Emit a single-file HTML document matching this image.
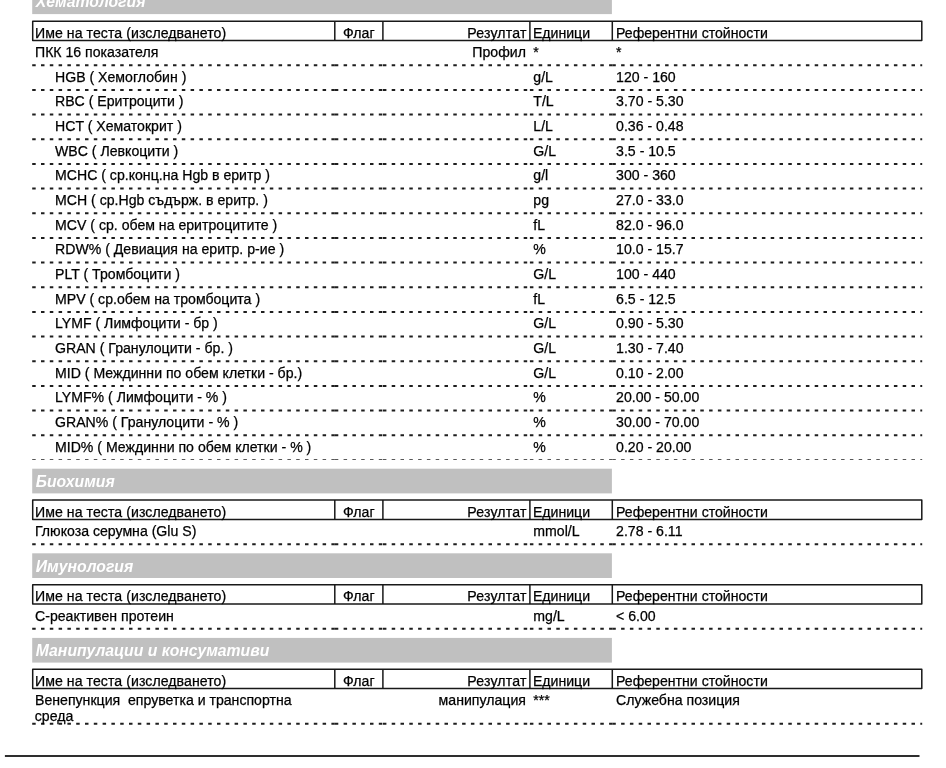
<!DOCTYPE html>
<html lang="bg"><head><meta charset="utf-8"><title>Лабораторни резултати</title>
<style>
html,body{margin:0;padding:0;background:#fff;}
body{width:946px;height:768px;position:relative;overflow:hidden;font-family:"Liberation Sans",sans-serif;color:#000;}
.t{position:absolute;white-space:nowrap;font-size:14.12px;line-height:20.0px;height:20.0px;color:#000;-webkit-text-stroke:0.25px #000;}
.h{position:absolute;left:35.8px;white-space:nowrap;font-size:15.75px;line-height:20.0px;height:20.0px;font-weight:bold;font-style:italic;color:#fff;}
svg{position:absolute;left:0;top:0;}
#pg{position:absolute;left:0;top:0;width:946px;height:768px;will-change:transform;}
</style></head><body><div id="pg">
<svg width="946" height="768" viewBox="0 0 946 768">
<rect x="32.20" y="-10.60" width="579.70" height="24.7" fill="#c0c0c0"/>
<rect x="32.20" y="468.70" width="579.70" height="24.7" fill="#c0c0c0"/>
<rect x="32.20" y="553.30" width="579.70" height="24.7" fill="#c0c0c0"/>
<rect x="32.20" y="637.90" width="579.70" height="24.7" fill="#c0c0c0"/>
<rect x="32.70" y="21.20" width="889.10" height="19.30" fill="none" stroke="#181818" stroke-width="1.5" stroke-linejoin="round"/>
<line x1="334.80" y1="21.20" x2="334.80" y2="40.50" stroke="#181818" stroke-width="1.5"/>
<line x1="382.90" y1="21.20" x2="382.90" y2="40.50" stroke="#181818" stroke-width="1.5"/>
<line x1="529.90" y1="21.20" x2="529.90" y2="40.50" stroke="#181818" stroke-width="1.5"/>
<line x1="612.30" y1="21.20" x2="612.30" y2="40.50" stroke="#181818" stroke-width="1.5"/>
<line x1="32.20" y1="65.30" x2="334.80" y2="65.30" stroke="#1e1e1e" stroke-width="2.0" stroke-dasharray="3.5 5.3"/>
<line x1="334.80" y1="65.30" x2="382.90" y2="65.30" stroke="#1e1e1e" stroke-width="2.0" stroke-dasharray="3.5 5.3"/>
<line x1="382.90" y1="65.30" x2="529.90" y2="65.30" stroke="#1e1e1e" stroke-width="2.0" stroke-dasharray="3.5 5.3"/>
<line x1="529.90" y1="65.30" x2="612.30" y2="65.30" stroke="#1e1e1e" stroke-width="2.0" stroke-dasharray="3.5 5.3"/>
<line x1="612.30" y1="65.30" x2="922.20" y2="65.30" stroke="#1e1e1e" stroke-width="2.0" stroke-dasharray="3.5 5.3"/>
<line x1="32.20" y1="89.96" x2="334.80" y2="89.96" stroke="#1e1e1e" stroke-width="2.0" stroke-dasharray="3.5 5.3"/>
<line x1="334.80" y1="89.96" x2="382.90" y2="89.96" stroke="#1e1e1e" stroke-width="2.0" stroke-dasharray="3.5 5.3"/>
<line x1="382.90" y1="89.96" x2="529.90" y2="89.96" stroke="#1e1e1e" stroke-width="2.0" stroke-dasharray="3.5 5.3"/>
<line x1="529.90" y1="89.96" x2="612.30" y2="89.96" stroke="#1e1e1e" stroke-width="2.0" stroke-dasharray="3.5 5.3"/>
<line x1="612.30" y1="89.96" x2="922.20" y2="89.96" stroke="#1e1e1e" stroke-width="2.0" stroke-dasharray="3.5 5.3"/>
<line x1="32.20" y1="114.62" x2="334.80" y2="114.62" stroke="#1e1e1e" stroke-width="2.0" stroke-dasharray="3.5 5.3"/>
<line x1="334.80" y1="114.62" x2="382.90" y2="114.62" stroke="#1e1e1e" stroke-width="2.0" stroke-dasharray="3.5 5.3"/>
<line x1="382.90" y1="114.62" x2="529.90" y2="114.62" stroke="#1e1e1e" stroke-width="2.0" stroke-dasharray="3.5 5.3"/>
<line x1="529.90" y1="114.62" x2="612.30" y2="114.62" stroke="#1e1e1e" stroke-width="2.0" stroke-dasharray="3.5 5.3"/>
<line x1="612.30" y1="114.62" x2="922.20" y2="114.62" stroke="#1e1e1e" stroke-width="2.0" stroke-dasharray="3.5 5.3"/>
<line x1="32.20" y1="139.28" x2="334.80" y2="139.28" stroke="#1e1e1e" stroke-width="2.0" stroke-dasharray="3.5 5.3"/>
<line x1="334.80" y1="139.28" x2="382.90" y2="139.28" stroke="#1e1e1e" stroke-width="2.0" stroke-dasharray="3.5 5.3"/>
<line x1="382.90" y1="139.28" x2="529.90" y2="139.28" stroke="#1e1e1e" stroke-width="2.0" stroke-dasharray="3.5 5.3"/>
<line x1="529.90" y1="139.28" x2="612.30" y2="139.28" stroke="#1e1e1e" stroke-width="2.0" stroke-dasharray="3.5 5.3"/>
<line x1="612.30" y1="139.28" x2="922.20" y2="139.28" stroke="#1e1e1e" stroke-width="2.0" stroke-dasharray="3.5 5.3"/>
<line x1="32.20" y1="163.94" x2="334.80" y2="163.94" stroke="#1e1e1e" stroke-width="2.0" stroke-dasharray="3.5 5.3"/>
<line x1="334.80" y1="163.94" x2="382.90" y2="163.94" stroke="#1e1e1e" stroke-width="2.0" stroke-dasharray="3.5 5.3"/>
<line x1="382.90" y1="163.94" x2="529.90" y2="163.94" stroke="#1e1e1e" stroke-width="2.0" stroke-dasharray="3.5 5.3"/>
<line x1="529.90" y1="163.94" x2="612.30" y2="163.94" stroke="#1e1e1e" stroke-width="2.0" stroke-dasharray="3.5 5.3"/>
<line x1="612.30" y1="163.94" x2="922.20" y2="163.94" stroke="#1e1e1e" stroke-width="2.0" stroke-dasharray="3.5 5.3"/>
<line x1="32.20" y1="188.60" x2="334.80" y2="188.60" stroke="#1e1e1e" stroke-width="2.0" stroke-dasharray="3.5 5.3"/>
<line x1="334.80" y1="188.60" x2="382.90" y2="188.60" stroke="#1e1e1e" stroke-width="2.0" stroke-dasharray="3.5 5.3"/>
<line x1="382.90" y1="188.60" x2="529.90" y2="188.60" stroke="#1e1e1e" stroke-width="2.0" stroke-dasharray="3.5 5.3"/>
<line x1="529.90" y1="188.60" x2="612.30" y2="188.60" stroke="#1e1e1e" stroke-width="2.0" stroke-dasharray="3.5 5.3"/>
<line x1="612.30" y1="188.60" x2="922.20" y2="188.60" stroke="#1e1e1e" stroke-width="2.0" stroke-dasharray="3.5 5.3"/>
<line x1="32.20" y1="213.26" x2="334.80" y2="213.26" stroke="#1e1e1e" stroke-width="2.0" stroke-dasharray="3.5 5.3"/>
<line x1="334.80" y1="213.26" x2="382.90" y2="213.26" stroke="#1e1e1e" stroke-width="2.0" stroke-dasharray="3.5 5.3"/>
<line x1="382.90" y1="213.26" x2="529.90" y2="213.26" stroke="#1e1e1e" stroke-width="2.0" stroke-dasharray="3.5 5.3"/>
<line x1="529.90" y1="213.26" x2="612.30" y2="213.26" stroke="#1e1e1e" stroke-width="2.0" stroke-dasharray="3.5 5.3"/>
<line x1="612.30" y1="213.26" x2="922.20" y2="213.26" stroke="#1e1e1e" stroke-width="2.0" stroke-dasharray="3.5 5.3"/>
<line x1="32.20" y1="237.92" x2="334.80" y2="237.92" stroke="#1e1e1e" stroke-width="2.0" stroke-dasharray="3.5 5.3"/>
<line x1="334.80" y1="237.92" x2="382.90" y2="237.92" stroke="#1e1e1e" stroke-width="2.0" stroke-dasharray="3.5 5.3"/>
<line x1="382.90" y1="237.92" x2="529.90" y2="237.92" stroke="#1e1e1e" stroke-width="2.0" stroke-dasharray="3.5 5.3"/>
<line x1="529.90" y1="237.92" x2="612.30" y2="237.92" stroke="#1e1e1e" stroke-width="2.0" stroke-dasharray="3.5 5.3"/>
<line x1="612.30" y1="237.92" x2="922.20" y2="237.92" stroke="#1e1e1e" stroke-width="2.0" stroke-dasharray="3.5 5.3"/>
<line x1="32.20" y1="262.58" x2="334.80" y2="262.58" stroke="#1e1e1e" stroke-width="2.0" stroke-dasharray="3.5 5.3"/>
<line x1="334.80" y1="262.58" x2="382.90" y2="262.58" stroke="#1e1e1e" stroke-width="2.0" stroke-dasharray="3.5 5.3"/>
<line x1="382.90" y1="262.58" x2="529.90" y2="262.58" stroke="#1e1e1e" stroke-width="2.0" stroke-dasharray="3.5 5.3"/>
<line x1="529.90" y1="262.58" x2="612.30" y2="262.58" stroke="#1e1e1e" stroke-width="2.0" stroke-dasharray="3.5 5.3"/>
<line x1="612.30" y1="262.58" x2="922.20" y2="262.58" stroke="#1e1e1e" stroke-width="2.0" stroke-dasharray="3.5 5.3"/>
<line x1="32.20" y1="287.24" x2="334.80" y2="287.24" stroke="#1e1e1e" stroke-width="2.0" stroke-dasharray="3.5 5.3"/>
<line x1="334.80" y1="287.24" x2="382.90" y2="287.24" stroke="#1e1e1e" stroke-width="2.0" stroke-dasharray="3.5 5.3"/>
<line x1="382.90" y1="287.24" x2="529.90" y2="287.24" stroke="#1e1e1e" stroke-width="2.0" stroke-dasharray="3.5 5.3"/>
<line x1="529.90" y1="287.24" x2="612.30" y2="287.24" stroke="#1e1e1e" stroke-width="2.0" stroke-dasharray="3.5 5.3"/>
<line x1="612.30" y1="287.24" x2="922.20" y2="287.24" stroke="#1e1e1e" stroke-width="2.0" stroke-dasharray="3.5 5.3"/>
<line x1="32.20" y1="311.90" x2="334.80" y2="311.90" stroke="#1e1e1e" stroke-width="2.0" stroke-dasharray="3.5 5.3"/>
<line x1="334.80" y1="311.90" x2="382.90" y2="311.90" stroke="#1e1e1e" stroke-width="2.0" stroke-dasharray="3.5 5.3"/>
<line x1="382.90" y1="311.90" x2="529.90" y2="311.90" stroke="#1e1e1e" stroke-width="2.0" stroke-dasharray="3.5 5.3"/>
<line x1="529.90" y1="311.90" x2="612.30" y2="311.90" stroke="#1e1e1e" stroke-width="2.0" stroke-dasharray="3.5 5.3"/>
<line x1="612.30" y1="311.90" x2="922.20" y2="311.90" stroke="#1e1e1e" stroke-width="2.0" stroke-dasharray="3.5 5.3"/>
<line x1="32.20" y1="336.56" x2="334.80" y2="336.56" stroke="#1e1e1e" stroke-width="2.0" stroke-dasharray="3.5 5.3"/>
<line x1="334.80" y1="336.56" x2="382.90" y2="336.56" stroke="#1e1e1e" stroke-width="2.0" stroke-dasharray="3.5 5.3"/>
<line x1="382.90" y1="336.56" x2="529.90" y2="336.56" stroke="#1e1e1e" stroke-width="2.0" stroke-dasharray="3.5 5.3"/>
<line x1="529.90" y1="336.56" x2="612.30" y2="336.56" stroke="#1e1e1e" stroke-width="2.0" stroke-dasharray="3.5 5.3"/>
<line x1="612.30" y1="336.56" x2="922.20" y2="336.56" stroke="#1e1e1e" stroke-width="2.0" stroke-dasharray="3.5 5.3"/>
<line x1="32.20" y1="361.22" x2="334.80" y2="361.22" stroke="#1e1e1e" stroke-width="2.0" stroke-dasharray="3.5 5.3"/>
<line x1="334.80" y1="361.22" x2="382.90" y2="361.22" stroke="#1e1e1e" stroke-width="2.0" stroke-dasharray="3.5 5.3"/>
<line x1="382.90" y1="361.22" x2="529.90" y2="361.22" stroke="#1e1e1e" stroke-width="2.0" stroke-dasharray="3.5 5.3"/>
<line x1="529.90" y1="361.22" x2="612.30" y2="361.22" stroke="#1e1e1e" stroke-width="2.0" stroke-dasharray="3.5 5.3"/>
<line x1="612.30" y1="361.22" x2="922.20" y2="361.22" stroke="#1e1e1e" stroke-width="2.0" stroke-dasharray="3.5 5.3"/>
<line x1="32.20" y1="385.88" x2="334.80" y2="385.88" stroke="#1e1e1e" stroke-width="2.0" stroke-dasharray="3.5 5.3"/>
<line x1="334.80" y1="385.88" x2="382.90" y2="385.88" stroke="#1e1e1e" stroke-width="2.0" stroke-dasharray="3.5 5.3"/>
<line x1="382.90" y1="385.88" x2="529.90" y2="385.88" stroke="#1e1e1e" stroke-width="2.0" stroke-dasharray="3.5 5.3"/>
<line x1="529.90" y1="385.88" x2="612.30" y2="385.88" stroke="#1e1e1e" stroke-width="2.0" stroke-dasharray="3.5 5.3"/>
<line x1="612.30" y1="385.88" x2="922.20" y2="385.88" stroke="#1e1e1e" stroke-width="2.0" stroke-dasharray="3.5 5.3"/>
<line x1="32.20" y1="410.54" x2="334.80" y2="410.54" stroke="#1e1e1e" stroke-width="2.0" stroke-dasharray="3.5 5.3"/>
<line x1="334.80" y1="410.54" x2="382.90" y2="410.54" stroke="#1e1e1e" stroke-width="2.0" stroke-dasharray="3.5 5.3"/>
<line x1="382.90" y1="410.54" x2="529.90" y2="410.54" stroke="#1e1e1e" stroke-width="2.0" stroke-dasharray="3.5 5.3"/>
<line x1="529.90" y1="410.54" x2="612.30" y2="410.54" stroke="#1e1e1e" stroke-width="2.0" stroke-dasharray="3.5 5.3"/>
<line x1="612.30" y1="410.54" x2="922.20" y2="410.54" stroke="#1e1e1e" stroke-width="2.0" stroke-dasharray="3.5 5.3"/>
<line x1="32.20" y1="435.20" x2="334.80" y2="435.20" stroke="#1e1e1e" stroke-width="2.0" stroke-dasharray="3.5 5.3"/>
<line x1="334.80" y1="435.20" x2="382.90" y2="435.20" stroke="#1e1e1e" stroke-width="2.0" stroke-dasharray="3.5 5.3"/>
<line x1="382.90" y1="435.20" x2="529.90" y2="435.20" stroke="#1e1e1e" stroke-width="2.0" stroke-dasharray="3.5 5.3"/>
<line x1="529.90" y1="435.20" x2="612.30" y2="435.20" stroke="#1e1e1e" stroke-width="2.0" stroke-dasharray="3.5 5.3"/>
<line x1="612.30" y1="435.20" x2="922.20" y2="435.20" stroke="#1e1e1e" stroke-width="2.0" stroke-dasharray="3.5 5.3"/>
<line x1="32.20" y1="459.51" x2="334.80" y2="459.51" stroke="#3a3a3a" stroke-width="0.85" stroke-dasharray="3.5 5.3"/>
<line x1="334.80" y1="459.51" x2="382.90" y2="459.51" stroke="#3a3a3a" stroke-width="0.85" stroke-dasharray="3.5 5.3"/>
<line x1="382.90" y1="459.51" x2="529.90" y2="459.51" stroke="#3a3a3a" stroke-width="0.85" stroke-dasharray="3.5 5.3"/>
<line x1="529.90" y1="459.51" x2="612.30" y2="459.51" stroke="#3a3a3a" stroke-width="0.85" stroke-dasharray="3.5 5.3"/>
<line x1="612.30" y1="459.51" x2="922.20" y2="459.51" stroke="#3a3a3a" stroke-width="0.85" stroke-dasharray="3.5 5.3"/>
<rect x="32.70" y="500.10" width="889.10" height="19.30" fill="none" stroke="#181818" stroke-width="1.5" stroke-linejoin="round"/>
<line x1="334.80" y1="500.10" x2="334.80" y2="519.40" stroke="#181818" stroke-width="1.5"/>
<line x1="382.90" y1="500.10" x2="382.90" y2="519.40" stroke="#181818" stroke-width="1.5"/>
<line x1="529.90" y1="500.10" x2="529.90" y2="519.40" stroke="#181818" stroke-width="1.5"/>
<line x1="612.30" y1="500.10" x2="612.30" y2="519.40" stroke="#181818" stroke-width="1.5"/>
<line x1="32.20" y1="544.20" x2="334.80" y2="544.20" stroke="#1e1e1e" stroke-width="2.0" stroke-dasharray="3.5 5.3"/>
<line x1="334.80" y1="544.20" x2="382.90" y2="544.20" stroke="#1e1e1e" stroke-width="2.0" stroke-dasharray="3.5 5.3"/>
<line x1="382.90" y1="544.20" x2="529.90" y2="544.20" stroke="#1e1e1e" stroke-width="2.0" stroke-dasharray="3.5 5.3"/>
<line x1="529.90" y1="544.20" x2="612.30" y2="544.20" stroke="#1e1e1e" stroke-width="2.0" stroke-dasharray="3.5 5.3"/>
<line x1="612.30" y1="544.20" x2="922.20" y2="544.20" stroke="#1e1e1e" stroke-width="2.0" stroke-dasharray="3.5 5.3"/>
<rect x="32.70" y="584.70" width="889.10" height="19.30" fill="none" stroke="#181818" stroke-width="1.5" stroke-linejoin="round"/>
<line x1="334.80" y1="584.70" x2="334.80" y2="604.00" stroke="#181818" stroke-width="1.5"/>
<line x1="382.90" y1="584.70" x2="382.90" y2="604.00" stroke="#181818" stroke-width="1.5"/>
<line x1="529.90" y1="584.70" x2="529.90" y2="604.00" stroke="#181818" stroke-width="1.5"/>
<line x1="612.30" y1="584.70" x2="612.30" y2="604.00" stroke="#181818" stroke-width="1.5"/>
<line x1="32.20" y1="628.80" x2="334.80" y2="628.80" stroke="#1e1e1e" stroke-width="2.0" stroke-dasharray="3.5 5.3"/>
<line x1="334.80" y1="628.80" x2="382.90" y2="628.80" stroke="#1e1e1e" stroke-width="2.0" stroke-dasharray="3.5 5.3"/>
<line x1="382.90" y1="628.80" x2="529.90" y2="628.80" stroke="#1e1e1e" stroke-width="2.0" stroke-dasharray="3.5 5.3"/>
<line x1="529.90" y1="628.80" x2="612.30" y2="628.80" stroke="#1e1e1e" stroke-width="2.0" stroke-dasharray="3.5 5.3"/>
<line x1="612.30" y1="628.80" x2="922.20" y2="628.80" stroke="#1e1e1e" stroke-width="2.0" stroke-dasharray="3.5 5.3"/>
<rect x="32.70" y="669.30" width="889.10" height="19.30" fill="none" stroke="#181818" stroke-width="1.5" stroke-linejoin="round"/>
<line x1="334.80" y1="669.30" x2="334.80" y2="688.60" stroke="#181818" stroke-width="1.5"/>
<line x1="382.90" y1="669.30" x2="382.90" y2="688.60" stroke="#181818" stroke-width="1.5"/>
<line x1="529.90" y1="669.30" x2="529.90" y2="688.60" stroke="#181818" stroke-width="1.5"/>
<line x1="612.30" y1="669.30" x2="612.30" y2="688.60" stroke="#181818" stroke-width="1.5"/>
<line x1="32.20" y1="723.80" x2="334.80" y2="723.80" stroke="#1e1e1e" stroke-width="2.0" stroke-dasharray="3.5 5.3"/>
<line x1="334.80" y1="723.80" x2="382.90" y2="723.80" stroke="#1e1e1e" stroke-width="2.0" stroke-dasharray="3.5 5.3"/>
<line x1="382.90" y1="723.80" x2="529.90" y2="723.80" stroke="#1e1e1e" stroke-width="2.0" stroke-dasharray="3.5 5.3"/>
<line x1="529.90" y1="723.80" x2="612.30" y2="723.80" stroke="#1e1e1e" stroke-width="2.0" stroke-dasharray="3.5 5.3"/>
<line x1="612.30" y1="723.80" x2="922.20" y2="723.80" stroke="#1e1e1e" stroke-width="2.0" stroke-dasharray="3.5 5.3"/>
<line x1="4.9" y1="755.95" x2="919.5" y2="755.95" stroke="#2e2e2e" stroke-width="2.1"/>
</svg>
<div class="h" style="top:-7.70px">Хематология</div>
<div class="h" style="top:472.10px">Биохимия</div>
<div class="h" style="top:556.70px">Имунология</div>
<div class="h" style="top:641.30px">Манипулации и консумативи</div>
<div class="t" style="left:35.00px;top:22.90px"><span style="letter-spacing:0.06px">Име на теста (изследването)</span></div>
<div class="t" style="left:258.85px;width:200px;text-align:center;top:22.90px">Флаг</div>
<div class="t" style="right:419.30px;top:22.90px"><span style="letter-spacing:0.2px">Резултат</span></div>
<div class="t" style="left:532.90px;top:22.90px">Единици</div>
<div class="t" style="left:616.00px;top:22.90px">Референтни стойности</div>
<div class="t" style="left:35.00px;top:42.40px">ПКК 16 показателя</div>
<div class="t" style="right:420.10px;top:42.40px">Профил</div>
<div class="t" style="left:533.30px;top:42.40px">*</div>
<div class="t" style="left:616.10px;top:42.40px">*</div>
<div class="t" style="left:55.00px;top:66.61px">HGB ( Хемоглобин )</div>
<div class="t" style="left:533.30px;top:66.61px">g/L</div>
<div class="t" style="left:616.10px;top:66.61px">120 - 160</div>
<div class="t" style="left:55.00px;top:91.27px">RBC ( Еритроцити )</div>
<div class="t" style="left:533.30px;top:91.27px">T/L</div>
<div class="t" style="left:616.10px;top:91.27px">3.70 - 5.30</div>
<div class="t" style="left:55.00px;top:115.93px">HCT ( Хематокрит )</div>
<div class="t" style="left:533.30px;top:115.93px">L/L</div>
<div class="t" style="left:616.10px;top:115.93px">0.36 - 0.48</div>
<div class="t" style="left:55.00px;top:140.59px">WBC ( Левкоцити )</div>
<div class="t" style="left:533.30px;top:140.59px">G/L</div>
<div class="t" style="left:616.10px;top:140.59px">3.5 - 10.5</div>
<div class="t" style="left:55.00px;top:165.25px">MCHC ( ср.конц.на Hgb в еритр )</div>
<div class="t" style="left:533.30px;top:165.25px">g/l</div>
<div class="t" style="left:616.10px;top:165.25px">300 - 360</div>
<div class="t" style="left:55.00px;top:189.91px">MCH ( ср.Hgb съдърж. в еритр. )</div>
<div class="t" style="left:533.30px;top:189.91px">pg</div>
<div class="t" style="left:616.10px;top:189.91px">27.0 - 33.0</div>
<div class="t" style="left:55.00px;top:214.57px">MCV ( ср. обем на еритроцитите )</div>
<div class="t" style="left:533.30px;top:214.57px">fL</div>
<div class="t" style="left:616.10px;top:214.57px">82.0 - 96.0</div>
<div class="t" style="left:55.00px;top:239.23px">RDW% ( Девиация на еритр. р-ие )</div>
<div class="t" style="left:533.30px;top:239.23px">%</div>
<div class="t" style="left:616.10px;top:239.23px">10.0 - 15.7</div>
<div class="t" style="left:55.00px;top:263.89px">PLT ( Тромбоцити )</div>
<div class="t" style="left:533.30px;top:263.89px">G/L</div>
<div class="t" style="left:616.10px;top:263.89px">100 - 440</div>
<div class="t" style="left:55.00px;top:288.55px">MPV ( ср.обем на тромбоцита )</div>
<div class="t" style="left:533.30px;top:288.55px">fL</div>
<div class="t" style="left:616.10px;top:288.55px">6.5 - 12.5</div>
<div class="t" style="left:55.00px;top:313.21px">LYMF ( Лимфоцити - бр )</div>
<div class="t" style="left:533.30px;top:313.21px">G/L</div>
<div class="t" style="left:616.10px;top:313.21px">0.90 - 5.30</div>
<div class="t" style="left:55.00px;top:337.87px">GRAN ( Гранулоцити - бр. )</div>
<div class="t" style="left:533.30px;top:337.87px">G/L</div>
<div class="t" style="left:616.10px;top:337.87px">1.30 - 7.40</div>
<div class="t" style="left:55.00px;top:362.53px">MID ( Междинни по обем клетки - бр.)</div>
<div class="t" style="left:533.30px;top:362.53px">G/L</div>
<div class="t" style="left:616.10px;top:362.53px">0.10 - 2.00</div>
<div class="t" style="left:55.00px;top:387.19px">LYMF% ( Лимфоцити - % )</div>
<div class="t" style="left:533.30px;top:387.19px">%</div>
<div class="t" style="left:616.10px;top:387.19px">20.00 - 50.00</div>
<div class="t" style="left:55.00px;top:411.85px">GRAN% ( Гранулоцити - % )</div>
<div class="t" style="left:533.30px;top:411.85px">%</div>
<div class="t" style="left:616.10px;top:411.85px">30.00 - 70.00</div>
<div class="t" style="left:55.00px;top:436.51px">MID% ( Междинни по обем клетки - % )</div>
<div class="t" style="left:533.30px;top:436.51px">%</div>
<div class="t" style="left:616.10px;top:436.51px">0.20 - 20.00</div>
<div class="t" style="left:35.00px;top:501.80px"><span style="letter-spacing:0.06px">Име на теста (изследването)</span></div>
<div class="t" style="left:258.85px;width:200px;text-align:center;top:501.80px">Флаг</div>
<div class="t" style="right:419.30px;top:501.80px"><span style="letter-spacing:0.2px">Резултат</span></div>
<div class="t" style="left:532.90px;top:501.80px">Единици</div>
<div class="t" style="left:616.00px;top:501.80px">Референтни стойности</div>
<div class="t" style="left:35.00px;top:521.40px">Глюкоза серумна (Glu S)</div>
<div class="t" style="left:533.30px;top:521.40px">mmol/L</div>
<div class="t" style="left:616.10px;top:521.40px">2.78 - 6.11</div>
<div class="t" style="left:35.00px;top:586.40px"><span style="letter-spacing:0.06px">Име на теста (изследването)</span></div>
<div class="t" style="left:258.85px;width:200px;text-align:center;top:586.40px">Флаг</div>
<div class="t" style="right:419.30px;top:586.40px"><span style="letter-spacing:0.2px">Резултат</span></div>
<div class="t" style="left:532.90px;top:586.40px">Единици</div>
<div class="t" style="left:616.00px;top:586.40px">Референтни стойности</div>
<div class="t" style="left:35.00px;top:606.00px">С-реактивен протеин</div>
<div class="t" style="left:533.30px;top:606.00px">mg/L</div>
<div class="t" style="left:616.10px;top:606.00px">&lt; 6.00</div>
<div class="t" style="left:35.00px;top:671.00px"><span style="letter-spacing:0.06px">Име на теста (изследването)</span></div>
<div class="t" style="left:258.85px;width:200px;text-align:center;top:671.00px">Флаг</div>
<div class="t" style="right:419.30px;top:671.00px"><span style="letter-spacing:0.2px">Резултат</span></div>
<div class="t" style="left:532.90px;top:671.00px">Единици</div>
<div class="t" style="left:616.00px;top:671.00px">Референтни стойности</div>
<div class="t" style="left:35.00px;top:690.40px">Венепункция&nbsp; епруветка и транспортна</div>
<div class="t" style="left:34.80px;top:705.60px">среда</div>
<div class="t" style="right:420.10px;top:690.40px">манипулация</div>
<div class="t" style="left:533.30px;top:690.40px">***</div>
<div class="t" style="left:616.10px;top:690.40px">Служебна позиция</div>
</div></body></html>
